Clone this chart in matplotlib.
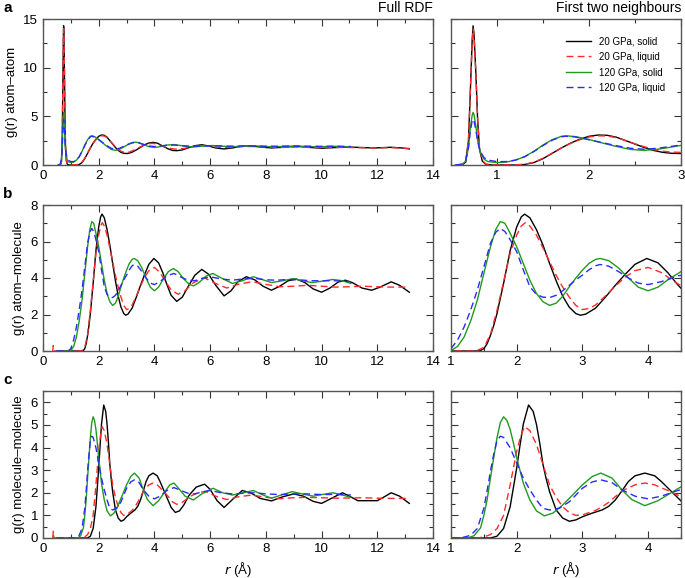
import matplotlib
matplotlib.use('Agg')
from matplotlib import pyplot as plt
from matplotlib.ticker import MultipleLocator

plt.rcParams['font.family'] = ['Liberation Sans', 'DejaVu Sans']

# ---- panel a : atom-atom ----
a_r_20s = [0.55, 0.62, 0.66, 0.69, 0.71, 0.73, 0.74, 0.75, 0.77, 0.79, 0.81, 0.84, 0.88, 0.95, 1.2, 1.3,
           1.4, 1.5, 1.6, 1.7, 1.8, 1.9, 2.0, 2.1, 2.2, 2.3, 2.4, 2.5, 2.6, 2.7, 2.8, 2.9, 3.0, 3.1,
           3.2, 3.35, 3.5, 3.65, 3.8, 3.95, 4.1, 4.3, 4.5, 4.65, 4.8, 5.0, 5.2, 5.45, 5.7, 5.95, 6.2,
           6.5, 6.8, 7.1, 7.4, 7.8, 8.2, 8.6, 9.1, 9.5, 10.0, 10.4, 10.9, 11.4, 11.9, 12.5, 12.9, 13.15]
a_g_20s = [0, 0, 0.3, 2.5, 7.5, 12.8, 14.3, 13.5, 9.5, 4.5, 1.6, 0.4, 0.05, 0, 0, 0.05,
           0.25, 0.65, 1.2, 1.75, 2.25, 2.65, 2.95, 3.08, 3.05, 2.85, 2.5, 2.15, 1.8, 1.5, 1.3, 1.2, 1.18, 1.22,
           1.32, 1.55, 1.82, 2.08, 2.26, 2.32, 2.25, 1.95, 1.65, 1.5, 1.47, 1.55, 1.75, 1.98, 2.08, 1.95, 1.75,
           1.65, 1.75, 1.92, 1.97, 1.85, 1.75, 1.82, 1.92, 1.82, 1.72, 1.78, 1.85, 1.8, 1.75, 1.82, 1.75, 1.65]

a_r_20l = [0.55, 0.62, 0.66, 0.69, 0.71, 0.73, 0.74, 0.75, 0.77, 0.79, 0.81, 0.84, 0.88, 0.95, 1.2, 1.3,
           1.4, 1.5, 1.6, 1.7, 1.8, 1.9, 2.0, 2.1, 2.2, 2.3, 2.4, 2.5, 2.6, 2.7, 2.8, 2.9, 3.0, 3.1,
           3.2, 3.35, 3.5, 3.65, 3.8, 3.95, 4.1, 4.3, 4.5, 4.7, 4.85, 5.1, 5.4, 5.7, 6.0, 6.3, 6.7,
           7.1, 7.5, 8.0, 8.5, 9.0, 9.5, 10.0, 10.5, 11.0, 11.5, 12.0, 12.5, 13.15]
a_g_20l = [0, 0, 0.35, 2.6, 7.5, 12.6, 14.0, 13.3, 9.5, 4.7, 1.8, 0.5, 0.1, 0.02, 0.02, 0.08,
           0.28, 0.7, 1.22, 1.75, 2.22, 2.6, 2.88, 3.0, 2.98, 2.8, 2.5, 2.18, 1.88, 1.6, 1.42, 1.32, 1.3, 1.33,
           1.45, 1.65, 1.88, 2.07, 2.2, 2.22, 2.15, 1.92, 1.74, 1.64, 1.63, 1.72, 1.9, 1.98, 1.92, 1.82, 1.8,
           1.88, 1.9, 1.85, 1.8, 1.84, 1.83, 1.78, 1.8, 1.8, 1.77, 1.76, 1.78, 1.7]

a_r_120s = [0.55, 0.62, 0.66, 0.69, 0.71, 0.73, 0.74, 0.75, 0.77, 0.79, 0.82, 0.86, 0.9, 1.0, 1.1, 1.2,
            1.3, 1.4, 1.5, 1.6, 1.7, 1.75, 1.85, 2.0, 2.15, 2.3, 2.45, 2.6, 2.75, 2.9, 3.05, 3.2, 3.3,
            3.45, 3.6, 3.8, 4.0, 4.2, 4.45, 4.7, 4.95, 5.2, 5.4, 5.7, 6.1, 6.5, 6.8, 7.2, 7.6, 8.0,
            8.3, 8.7, 9.1, 9.5, 9.8, 10.2, 10.5, 10.8, 11.05]
a_g_120s = [0, 0.05, 0.4, 1.8, 3.8, 5.1, 5.4, 5.2, 4.0, 2.5, 1.3, 0.6, 0.35, 0.25, 0.3, 0.5,
            0.85, 1.4, 2.05, 2.6, 2.95, 3.0, 2.92, 2.62, 2.25, 1.9, 1.6, 1.5, 1.62, 1.85, 2.1, 2.3, 2.35,
            2.3, 2.12, 1.88, 1.8, 1.88, 2.05, 2.1, 2.0, 1.88, 1.85, 1.93, 2.0, 1.92, 1.88, 1.93, 1.97, 1.9,
            1.87, 1.92, 1.95, 1.9, 1.87, 1.9, 1.92, 1.88, 1.85]

a_r_120l = [0.55, 0.62, 0.66, 0.69, 0.71, 0.73, 0.74, 0.75, 0.77, 0.79, 0.82, 0.86, 0.9, 1.0, 1.1, 1.2,
            1.3, 1.4, 1.5, 1.6, 1.7, 1.75, 1.85, 2.0, 2.15, 2.3, 2.45, 2.6, 2.75, 2.9, 3.05, 3.2, 3.3,
            3.45, 3.6, 3.8, 4.0, 4.2, 4.45, 4.7, 5.0, 5.4, 5.8, 6.2, 6.6, 7.0, 7.5, 8.0, 8.5, 9.0,
            9.5, 10.0, 10.5, 11.05]
a_g_120l = [0, 0.1, 0.5, 1.8, 3.5, 4.5, 4.7, 4.55, 3.6, 2.4, 1.35, 0.75, 0.5, 0.35, 0.35, 0.5,
            0.85, 1.38, 2.0, 2.55, 2.9, 2.95, 2.88, 2.6, 2.28, 1.98, 1.72, 1.62, 1.72, 1.92, 2.12, 2.27, 2.3,
            2.25, 2.12, 1.95, 1.9, 1.95, 2.03, 2.05, 1.98, 1.93, 1.96, 1.97, 1.94, 1.94, 1.96, 1.93, 1.93, 1.95,
            1.93, 1.92, 1.93, 1.9]

# ---- panel b : atom-molecule ----
b_r_20s = [0.5, 1.4, 1.45, 1.5, 1.55, 1.6, 1.65, 1.7, 1.8, 1.9, 2.0, 2.07, 2.12, 2.2, 2.3, 2.4, 2.5,
           2.6, 2.7, 2.8, 2.9, 2.97, 3.05, 3.2, 3.35, 3.5, 3.65, 3.8, 3.98, 4.15, 4.3, 4.45, 4.6, 4.8,
           5.0, 5.2, 5.45, 5.7, 5.95, 6.2, 6.5, 6.75, 7.0, 7.3, 7.6, 7.9, 8.2, 8.5, 8.8, 9.1, 9.4, 9.7,
           10.0, 10.3, 10.6, 10.85, 11.1, 11.45, 11.8, 12.1, 12.5, 12.8, 13.15]
b_g_20s = [0, 0, 0.03, 0.13, 0.4, 0.85, 1.4, 2.05, 3.7, 5.5, 6.8, 7.35, 7.5, 7.3, 6.65, 5.8, 4.8,
           3.85, 3.0, 2.4, 2.05, 1.96, 2.02, 2.35, 2.95, 3.6, 4.2, 4.75, 5.07, 4.83, 4.29, 3.63, 3.05, 2.72,
           2.95, 3.5, 4.15, 4.47, 4.2, 3.6, 3.02, 3.3, 3.8, 4.07, 3.9, 3.55, 3.33, 3.55, 3.85, 3.94, 3.75, 3.4,
           3.22, 3.45, 3.78, 3.88, 3.75, 3.45, 3.33, 3.5, 3.79, 3.6, 3.22]

b_r_20l = [0.35, 0.37, 0.39, 1.35, 1.4, 1.5, 1.6, 1.7, 1.8, 1.9, 2.0, 2.07, 2.13, 2.2, 2.3, 2.4, 2.5,
           2.6, 2.7, 2.8, 2.9, 3.0, 3.1, 3.2, 3.35, 3.5, 3.65, 3.8, 4.0, 4.2, 4.4, 4.6, 4.85, 5.1, 5.4,
           5.8, 6.2, 6.6, 7.0, 7.5, 8.0, 8.5, 9.0, 9.5, 10.0, 10.5, 11.0, 11.5, 12.0, 12.5, 13.15]
b_g_20l = [0, 0.3, 0, 0, 0.03, 0.2, 0.9, 2.23, 3.8, 5.35, 6.35, 6.85, 7.03, 6.85, 6.35, 5.65, 4.9,
           4.15, 3.5, 2.95, 2.5, 2.27, 2.33, 2.52, 3.02, 3.55, 4.05, 4.4, 4.58, 4.3, 3.8, 3.35, 3.11, 3.3, 3.75,
           4.0, 3.7, 3.45, 3.65, 3.8, 3.65, 3.52, 3.55, 3.6, 3.55, 3.5, 3.52, 3.55, 3.52, 3.5, 3.5]

b_r_120s = [0.5, 0.95, 1.0, 1.1, 1.2, 1.3, 1.4, 1.5, 1.6, 1.68, 1.75, 1.82, 1.9, 2.0, 2.1, 2.2, 2.3,
            2.4, 2.5, 2.6, 2.7, 2.8, 2.9, 3.0, 3.1, 3.2, 3.27, 3.4, 3.55, 3.7, 3.85, 4.0, 4.15, 4.3, 4.5,
            4.68, 4.85, 5.05, 5.25, 5.4, 5.6, 5.85, 6.1, 6.4, 6.8, 7.15, 7.55, 7.9, 8.2, 8.6, 9.0, 9.3,
            9.65, 10.0, 10.4, 10.75, 11.05]
b_g_120s = [0, 0, 0.02, 0.25, 0.77, 1.65, 2.78, 4.25, 5.7, 6.65, 7.09, 7.0, 6.45, 5.71, 4.8, 3.88, 3.15,
            2.7, 2.5, 2.62, 3.0, 3.52, 4.0, 4.43, 4.8, 5.02, 5.07, 4.95, 4.55, 4.0, 3.5, 3.3, 3.5, 3.9, 4.35,
            4.52, 4.35, 3.95, 3.65, 3.57, 3.75, 4.1, 4.25, 4.0, 3.7, 3.85, 4.07, 3.9, 3.75, 3.85, 3.97, 3.85,
            3.75, 3.82, 3.92, 3.85, 3.7]

b_r_120l = [0.5, 0.9, 1.0, 1.1, 1.2, 1.3, 1.4, 1.5, 1.6, 1.68, 1.75, 1.82, 1.9, 2.0, 2.1, 2.2, 2.3,
            2.4, 2.5, 2.6, 2.7, 2.8, 2.9, 3.0, 3.1, 3.2, 3.27, 3.4, 3.55, 3.7, 3.85, 4.0, 4.2, 4.45, 4.7,
            4.95, 5.2, 5.45, 5.75, 6.05, 6.4, 6.8, 7.2, 7.6, 8.0, 8.4, 8.8, 9.2, 9.6, 10.0, 10.5, 11.05]
b_g_120l = [0, 0, 0.13, 0.6, 1.32, 2.25, 3.33, 4.6, 5.9, 6.5, 6.72, 6.55, 6.1, 5.44, 4.45, 3.52, 3.1,
            2.95, 2.93, 3.05, 3.3, 3.6, 3.9, 4.16, 4.45, 4.67, 4.74, 4.65, 4.35, 4.0, 3.72, 3.64, 3.8, 4.12, 4.25,
            4.05, 3.88, 3.85, 4.0, 4.05, 3.95, 3.88, 3.95, 3.98, 3.9, 3.88, 3.92, 3.9, 3.85, 3.85, 3.85, 3.8]

# ---- panel c : molecule-molecule ----
c_r_20s = [0.5, 1.6, 1.7, 1.8, 1.9, 2.0, 2.05, 2.1, 2.18, 2.25, 2.3, 2.35, 2.4, 2.45, 2.5, 2.6, 2.7,
           2.8, 2.9, 3.0, 3.15, 3.3, 3.4, 3.5, 3.6, 3.7, 3.8, 3.95, 4.1, 4.2, 4.35, 4.5, 4.6, 4.75, 4.9,
           5.05, 5.25, 5.5, 5.8, 6.0, 6.25, 6.5, 6.8, 7.15, 7.45, 7.8, 8.2, 8.6, 9.0, 9.35, 9.7, 10.0,
           10.35, 10.75, 11.0, 11.3, 11.7, 12.0, 12.25, 12.5, 12.8, 13.15]
c_g_20s = [0, 0, 0.08, 0.42, 1.38, 3.1, 4.1, 5.03, 5.88, 5.6, 5.03, 4.2, 3.24, 2.6, 2.05, 1.24, 0.88,
           0.74, 0.8, 0.94, 1.1, 1.24, 1.4, 1.68, 2.08, 2.5, 2.75, 2.87, 2.75, 2.5, 2.07, 1.64, 1.35, 1.13, 1.2,
           1.45, 1.9, 2.25, 2.38, 2.15, 1.65, 1.35, 1.7, 2.1, 2.0, 1.75, 1.64, 1.82, 1.95, 1.85, 1.62, 1.53,
           1.75, 2.0, 1.85, 1.65, 1.65, 1.65, 1.82, 2.0, 1.85, 1.53]

c_r_20l = [0.35, 0.37, 0.39, 1.4, 1.5, 1.6, 1.7, 1.8, 1.9, 2.0, 2.06, 2.12, 2.2, 2.3, 2.4, 2.5, 2.6,
           2.7, 2.8, 2.9, 3.0, 3.1, 3.2, 3.3, 3.4, 3.5, 3.65, 3.8, 3.95, 4.1, 4.3, 4.5, 4.65, 4.8, 5.0,
           5.3, 5.6, 5.85, 6.2, 6.6, 7.0, 7.5, 8.0, 8.5, 9.0, 9.5, 10.0, 10.5, 11.0, 11.5, 12.0, 12.5, 13.15]
c_g_20l = [0, 0.3, 0, 0, 0.05, 0.15, 0.42, 1.0, 2.35, 3.84, 4.5, 4.93, 4.75, 4.14, 3.25, 2.35, 1.8,
           1.38, 1.12, 1.0, 1.02, 1.12, 1.22, 1.38, 1.58, 1.83, 2.15, 2.35, 2.43, 2.35, 2.1, 1.83, 1.6, 1.49, 1.58,
           1.85, 2.02, 2.05, 1.85, 1.7, 1.82, 1.9, 1.8, 1.74, 1.78, 1.8, 1.78, 1.76, 1.77, 1.78, 1.76, 1.75, 1.75]

c_r_120s = [0.5, 1.25, 1.35, 1.45, 1.5, 1.55, 1.6, 1.65, 1.7, 1.75, 1.8, 1.85, 1.9, 1.95, 2.0, 2.1, 2.2,
            2.3, 2.42, 2.55, 2.7, 2.85, 3.0, 3.15, 3.28, 3.45, 3.6, 3.75, 3.95, 4.15, 4.35, 4.55, 4.7, 4.9,
            5.1, 5.4, 5.7, 6.1, 6.45, 6.8, 7.2, 7.55, 7.9, 8.2, 8.6, 8.95, 9.3, 9.7, 10.05, 10.4, 10.75, 11.05]
c_g_120s = [0, 0, 0.1, 0.45, 1.0, 1.7, 2.65, 3.55, 4.43, 5.1, 5.36, 5.2, 4.8, 4.2, 3.54, 2.43, 1.68,
            1.2, 0.98, 1.1, 1.46, 1.9, 2.35, 2.72, 2.87, 2.65, 2.13, 1.7, 1.43, 1.65, 2.0, 2.35, 2.43, 2.15,
            1.85, 1.68, 1.95, 2.2, 2.0, 1.9, 2.0, 2.1, 1.9, 1.76, 1.92, 2.05, 1.95, 1.85, 1.93, 2.0, 1.9, 1.8]

c_r_120l = [0.5, 1.15, 1.3, 1.4, 1.5, 1.55, 1.6, 1.65, 1.7, 1.75, 1.8, 1.9, 2.0, 2.1, 2.2, 2.3, 2.4,
            2.5, 2.65, 2.8, 2.9, 3.0, 3.15, 3.28, 3.45, 3.6, 3.8, 4.0, 4.2, 4.45, 4.7, 4.95, 5.2, 5.45,
            5.75, 6.0, 6.4, 6.8, 7.2, 7.6, 8.0, 8.5, 9.0, 9.5, 10.0, 10.5, 11.05]
c_g_120l = [0, 0, 0.12, 0.42, 1.31, 2.1, 2.95, 3.7, 4.3, 4.5, 4.45, 3.99, 3.32, 2.65, 2.13, 1.68, 1.31,
            1.24, 1.32, 1.6, 1.9, 2.2, 2.48, 2.57, 2.45, 2.13, 1.85, 1.73, 1.85, 2.1, 2.23, 2.1, 1.98, 1.95,
            2.05, 2.1, 2.0, 1.95, 1.98, 2.0, 1.95, 1.92, 1.95, 1.95, 1.92, 1.93, 1.9]

labels = ['20 GPa, solid', '20 GPa, liquid', '120 GPa, solid', '120 GPa, liquid']
colors = ['black', '#ff2a2a', '#1f9a1f', '#2a2aff']
styles = ['-', (0, (5, 3)), '-', (0, (5, 3))]

panels = [
    ([(a_r_20s, a_g_20s), (a_r_20l, a_g_20l), (a_r_120s, a_g_120s), (a_r_120l, a_g_120l)],
     'g(r) atom\u2013atom', 15, 5, 2.5, (0.5, 3)),
    ([(b_r_20s, b_g_20s), (b_r_20l, b_g_20l), (b_r_120s, b_g_120s), (b_r_120l, b_g_120l)],
     'g(r) atom\u2013molecule', 8, 2, 1, (1, 4.5)),
    ([(c_r_20s, c_g_20s), (c_r_20l, c_g_20l), (c_r_120s, c_g_120s), (c_r_120l, c_g_120l)],
     'g(r) molecule\u2013molecule', 6.5, 1, 0.5, (1, 4.5)),
]

fig = plt.figure(figsize=(6.85, 5.78), dpi=100)
W, H = 685.0, 578.0
rows_px = [(19, 165), (205, 351), (391, 538)]
letters = ['a', 'b', 'c']

def style_axes(ax, ymaj, ymin):
    ax.yaxis.set_major_locator(MultipleLocator(ymaj))
    ax.yaxis.set_minor_locator(MultipleLocator(ymin))
    ax.tick_params(which='both', direction='in', top=True, right=True, labelsize=9.5,
                   color='#333333', width=0.8)
    ax.tick_params(which='major', length=5)
    ax.tick_params(which='minor', length=3)
    for s in ax.spines.values():
        s.set_color('#555555')
        s.set_linewidth(1.0)

for i, (series, ylab, ytop, ymaj, ymin, xr) in enumerate(panels):
    top, bot = rows_px[i]
    axl = fig.add_axes([43 / W, 1 - bot / H, 390 / W, (bot - top) / H])
    axr = fig.add_axes([451 / W, 1 - bot / H, 230 / W, (bot - top) / H])
    for k, (r, g) in enumerate(series):
        for ax in (axl, axr):
            ax.plot(r, g, color=colors[k], linestyle=styles[k], lw=1.0, label=labels[k])
    axl.set_xlim(0, 14)
    axl.set_ylim(0, ytop)
    axl.xaxis.set_major_locator(MultipleLocator(2))
    axl.xaxis.set_minor_locator(MultipleLocator(1))
    style_axes(axl, ymaj, ymin)
    axl.set_ylabel(ylab, fontsize=9.5, labelpad=4)

    axr.set_xlim(*xr)
    axr.set_ylim(0, ytop)
    axr.xaxis.set_major_locator(MultipleLocator(1))
    axr.xaxis.set_minor_locator(MultipleLocator(0.5))
    style_axes(axr, ymaj, ymin)
    axr.tick_params(labelleft=False)

    fig.text(3 / W, 1 - (top - 11) / H, letters[i], fontsize=11, fontweight='bold', va='center', ha='left')

    if i == 0:
        axl.text(1.0, 1.03, 'Full RDF', transform=axl.transAxes, ha='right', va='bottom', fontsize=10)
        axr.text(1.0, 1.03, 'First two neighbours', transform=axr.transAxes, ha='right', va='bottom',
                 fontsize=10)
        axr.legend(loc='upper right', frameon=False, fontsize=7, handlelength=2.6,
                   bbox_to_anchor=(0.97, 0.94), labelspacing=0.55)
    if i == 2:
        axl.set_xlabel('$r$ (\u00c5)', fontsize=9.5)
        axr.set_xlabel('$r$ (\u00c5)', fontsize=9.5)

fig.savefig('out.png', dpi=100)
plt.close(fig)
